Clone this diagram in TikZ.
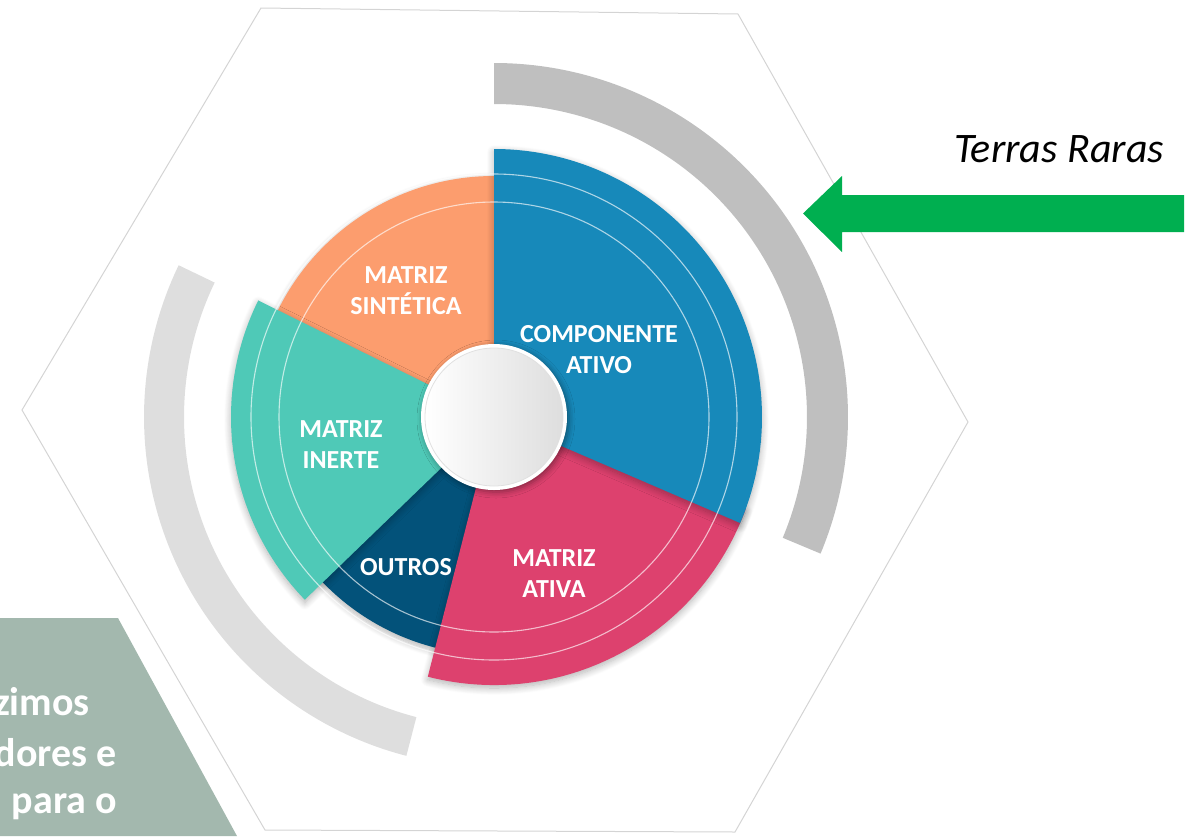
\documentclass[tikz,border=0pt]{standalone}
\usepackage{fontspec}
\setmainfont{Carlito}
\usetikzlibrary{calc,shadows.blur}
\definecolor{cblue}{HTML}{1789BA}
\definecolor{corange}{HTML}{FC9D6E}
\definecolor{cteal}{HTML}{4FC9B7}
\definecolor{cdark}{HTML}{03527A}
\definecolor{cpink}{HTML}{DD416E}
\definecolor{cgrayR}{HTML}{BFBFBF}
\definecolor{cgrayL}{HTML}{DEDEDE}
\definecolor{carrow}{HTML}{00AF50}
\definecolor{cpanel}{HTML}{A3B8AE}
\definecolor{chex}{HTML}{D4D4D4}
\tikzset{
  segshadow/.style={blur shadow={shadow xshift=0pt,shadow yshift=-3pt,shadow blur radius=7pt,shadow blur steps=10,shadow opacity=30}},
  lbl/.style={text=white,font=\bfseries\fontsize{26}{31}\selectfont,align=center,inner sep=0pt},
  paneltext/.style={text=white,font=\bfseries\fontsize{40}{48}\selectfont,inner sep=0pt,anchor=base east},
  ring/.style={draw=white,draw opacity=0.65,line width=1.1pt}
}
\begin{document}
\begin{tikzpicture}[x=1pt,y=1pt]
\useasboundingbox (0,0) rectangle (1192,-836);
\coordinate (C) at (494,-417);
% hexagon frame
\draw[chex,line width=1pt] (261,-8) -- (738,-14) -- (968,-422) -- (735,-832) -- (265,-830) -- (22,-410) -- cycle;
% bottom-left panel
\fill[cpanel] (0,-618) -- (118,-618) -- (237,-836) -- (0,-836) -- cycle;
\node[paneltext] (p1) at (90,-715) {zimos};
\node[paneltext] (p2) at (117,-766) {dores e};
\node[paneltext] (p3) at (117,-813) {para o};
% grey arcs
\fill[cgrayR] ($(C)+(90:354)$) arc[start angle=90,end angle=-22.7,radius=354]
  -- ($(C)+(-22.7:313)$) arc[start angle=-22.7,end angle=90,radius=313] -- cycle;
\fill[cgrayL] ($(C)+(154.3:350)$) arc[start angle=154.3,end angle=255.5,radius=350]
  -- ($(C)+(255.5:310)$) arc[start angle=255.5,end angle=154.3,radius=310] -- cycle;
% segments
\fill[corange,segshadow] (C) -- ++(90:241) arc[start angle=90,end angle=160,radius=241] -- cycle;
\fill[cdark,segshadow] (C) -- ++(210:238) arc[start angle=210,end angle=262,radius=238] -- cycle;
\fill[cteal,segshadow] (C) -- ++(153.7:263) arc[start angle=153.7,end angle=224,radius=263] -- cycle;
\fill[cpink,segshadow] (C) -- ++(255.7:268) arc[start angle=255.7,end angle=340,radius=268] -- cycle;
\fill[cblue,segshadow] (C) -- ++(-23.3:268) arc[start angle=-23.3,end angle=90,radius=268] -- cycle;
% thin rings
\draw[ring] (C) circle[radius=215];
\draw[ring] (C) circle[radius=243];
% centre disc
\fill[white,blur shadow={shadow xshift=2pt,shadow yshift=-2pt,shadow blur radius=6pt,shadow opacity=40}] (C) circle[radius=73];
\shade[left color=white,right color=black!13] (C) circle[radius=69];
\draw[black!12,line width=0.8pt] (C) circle[radius=69];
% labels
\node[lbl] (sint) at (406,-291) {MATRIZ\\SINTÉTICA};
\node[lbl] (comp) at (599,-350) {COMPONENTE\\ATIVO};
\node[lbl] (inerte) at (341,-444.5) {MATRIZ\\INERTE};
\node[lbl,anchor=base] (outros) at (406,-575) {OUTROS};
\node[lbl] (ativa) at (554,-573.5) {MATRIZ\\ATIVA};
% green arrow and caption
\fill[carrow] (803,-213.5) -- (842,-176) -- (842,-195) -- (1184,-195) -- (1184,-232) -- (842,-232) -- (842,-252) -- cycle;
\node[font=\itshape\fontsize{42}{50}\selectfont,anchor=base,inner sep=0pt] (terras) at (1059,-162) {Terras Raras};
\end{tikzpicture}
\end{document}
